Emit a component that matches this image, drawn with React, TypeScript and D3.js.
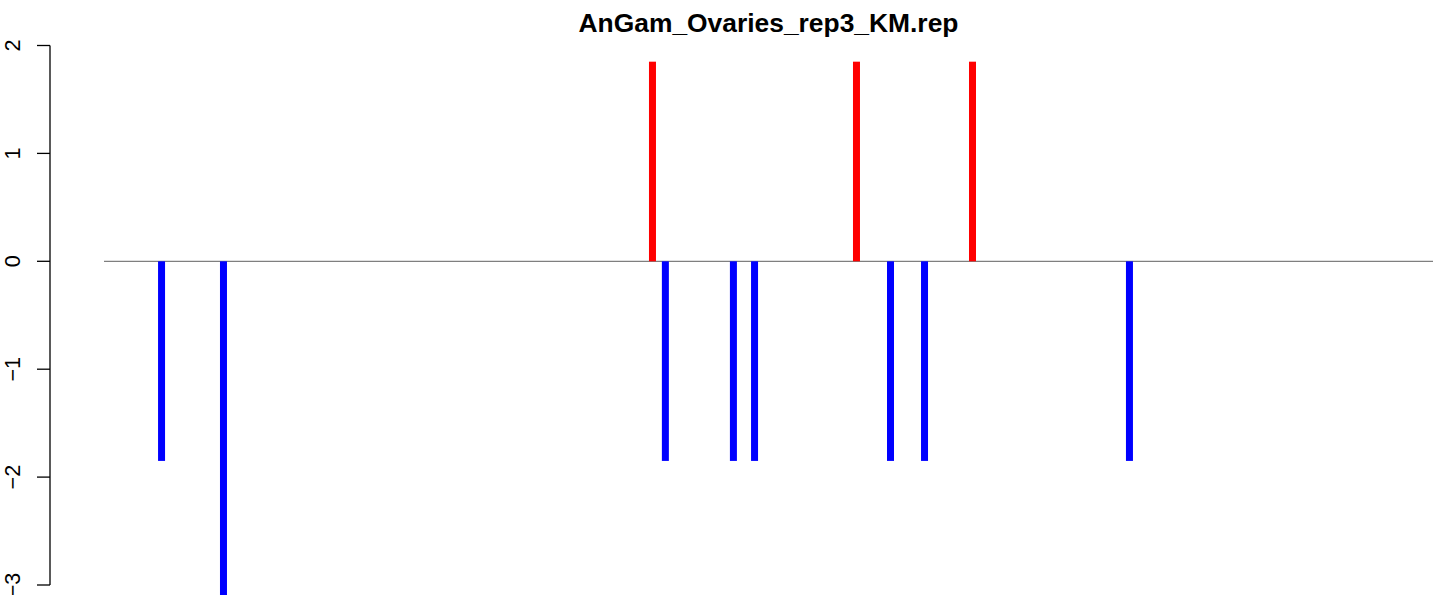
import React from "react";
import * as d3 from "d3";

const title = "AnGam_Ovaries_rep3_KM.rep";
const positions = [43.3, 89.9, 412.7, 422.4, 473.6, 489.5, 566.2, 591.8, 617.4, 653.5, 771.6];
const values = [-1.85, -3.1, 1.85, -1.85, -1.85, -1.85, 1.85, -1.85, -1.85, 1.85, -1.85];
const yTicks = [-3, -2, -1, 0, 1, 2];

const W = 1439;
const H = 595;

export default function App() {
  const x = d3.scaleLinear().domain([0, 1000]).range([104, 1433]);
  const y = d3.scaleLinear().domain([-3, 2]).range([585, 45.5]);
  const axisX = 50;
  const barW = 7;
  const font = "'Liberation Sans', Arial, Helvetica, sans-serif";
  return (
    <svg
      width={W}
      height={H}
      style={{ position: "absolute", left: 0, top: 0, background: "#fff" }}
    >
      <text
        x={(x.range()[0] + x.range()[1]) / 2}
        y={32}
        textAnchor="middle"
        fontFamily={font}
        fontWeight="bold"
        fontSize={26.4}
        fill="#000"
      >
        {title}
      </text>
      <line
        x1={x.range()[0]}
        x2={x.range()[1]}
        y1={y(0)}
        y2={y(0)}
        stroke="#7f7f7f"
        strokeWidth={1.3}
      />
      {positions.map((p, i) => {
        const v = values[i];
        const y0 = y(0);
        const y1 = y(v);
        return (
          <rect
            key={i}
            x={x(p) - barW / 2}
            y={Math.min(y0, y1)}
            width={barW}
            height={Math.abs(y1 - y0)}
            fill={v > 0 ? "#ff0000" : "#0000ff"}
          />
        );
      })}
      <line x1={axisX} x2={axisX} y1={y(2)} y2={y(-3)} stroke="#000" strokeWidth={1.3} />
      {yTicks.map((t) => (
        <g key={t}>
          <line x1={axisX - 13} x2={axisX} y1={y(t)} y2={y(t)} stroke="#000" strokeWidth={1.3} />
          <text
            transform={`translate(20,${y(t)}) rotate(-90)`}
            textAnchor="middle"
            fontFamily={font}
            fontSize={21.6}
            fill="#000"
          >
            {t < 0 ? `\u2212${Math.abs(t)}` : `${t}`}
          </text>
        </g>
      ))}
    </svg>
  );
}
